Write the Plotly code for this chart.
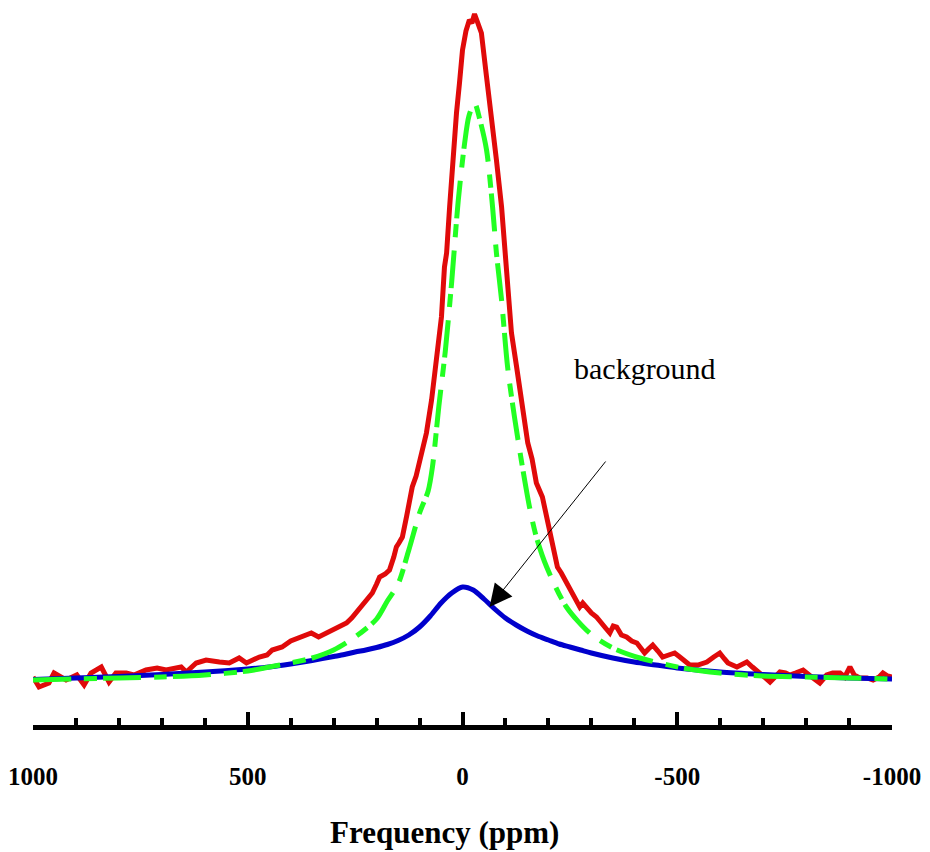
import plotly.graph_objects as go

# ---- data (frequency in ppm, intensity in arbitrary units) ----
red_freq = [1000, 986, 963, 951, 923, 898, 881, 865, 841, 823, 807, 783, 765, 737, 711, 690,
            655, 643, 620, 597, 566, 543, 520, 503, 473, 455, 443, 420, 400, 380, 365, 352,
            335, 317, 303, 285, 270, 258, 247, 235, 224, 210, 200, 193, 180, 170, 160, 154,
            148, 140, 130, 124, 117, 108, 100, 92, 84, 72, 61, 49, 42, 37, 30, 23, 14, 7, 0,
            -8, -16, -22, -28, -34, -44, -56, -68, -79, -91, -100, -105, -114, -126, -138,
            -152, -162, -172, -186, -195, -203, -212, -221, -230, -242, -252, -262, -273,
            -280, -289, -300, -312, -325, -335, -343, -351, -359, -370, -382, -394, -406,
            -415, -424, -433, -443, -455, -466, -480, -494, -506, -522, -529, -548, -569,
            -585, -599, -610, -618, -639, -662, -675, -685, -700, -716, -725, -739, -752,
            -762, -775, -793, -810, -832, -848, -862, -879, -890, -902, -912, -925, -942,
            -956, -970, -979, -990, -1000]
red_int = [4, -6, -2, 8, 1, 6, -4, 8, 14, -1, 8, 8, 6, 11, 13, 11,
           14, 9, 18, 21, 19, 18, 23, 18, 24, 26, 31, 34, 40, 43, 46, 48,
           44, 48, 51, 55, 58, 63, 69, 74, 81, 88, 97, 104, 107, 111, 124, 134,
           138, 144, 165, 181, 194, 205, 218, 233, 248, 281, 324, 364, 414, 428, 474, 524, 568, 598, 631,
           650, 661, 658, 667, 660, 648, 604, 564, 521, 474, 428, 398, 348, 314, 281,
           238, 222, 198, 184, 165, 151, 130, 114, 108, 98, 90, 84, 74,
           78, 73, 68, 64, 56, 52, 48, 55, 54, 46, 44, 40, 38,
           33, 28, 32, 36, 30, 24, 26, 28, 24, 19, 16, 16, 19,
           24, 28, 22, 18, 14, 19, 14, 11, 5, -1, 3, 9, 8,
           6, 8, 11, 5, -2, 6, 8, 8, 4, 14, 6, 3, 3,
           1, 4, 8, 5, 4]

green_freq = [1000, 900, 800, 700, 600, 500, 450, 400, 350, 300, 250, 200, 175, 150, 125, 100,
              80, 70, 55, 40, 25, 10, -5, -15, -28, -40, -56, -70, -79, -91, -105, -121,
              -138, -156, -172, -196, -242, -296, -350, -413, -513, -600, -700, -800, -900, -1000]
green_int = [1, 2, 3, 4, 6, 10, 14, 18, 23, 31, 44, 62, 80, 97, 131, 168,
             190, 214, 275, 330, 400, 480, 538, 565, 578, 562, 531, 474, 428, 381, 314, 264,
             218, 174, 144, 114, 74, 48, 33, 23, 13, 8, 5, 4, 3, 2]

blue_freq = [1000, 900, 800, 700, 600, 500, 450, 400, 350, 300, 275, 250, 225, 200, 175, 150,
             125, 100, 75, 50, 25, 0, -25, -50, -75, -100, -125, -150, -175, -200, -225,
             -250, -275, -300, -350, -400, -450, -500, -600, -700, -800, -900, -1000]
blue_int = [1.5, 3, 4.5, 6.5, 9, 12, 14, 17, 20.5, 24.5, 26.5, 29, 31, 33.5, 36.5, 40.5,
            46, 54, 65, 78, 88, 94, 91, 82, 72, 63, 56, 50, 45, 41, 37,
            34, 31, 28, 23, 19, 16, 13, 9, 6.5, 4.5, 3, 2]

x_tick_vals = [1000, 500, 0, -500, -1000]
x_tick_text = ["1000", "500", "0", "-500", "-1000"]

annotation_text = "background"
x_title = "Frequency (ppm)"

fig = go.Figure()
fig.add_trace(go.Scatter(x=red_freq, y=red_int, mode="lines",
                         line=dict(color="#e00a0a", width=5), showlegend=False))
fig.add_trace(go.Scatter(x=blue_freq, y=blue_int, mode="lines",
                         line=dict(color="#0000cc", width=5, shape="spline", smoothing=0.8),
                         showlegend=False))
fig.add_trace(go.Scatter(x=green_freq, y=green_int, mode="lines",
                         line=dict(color="#22ff22", width=5, shape="spline", smoothing=0.8,
                                   dash="38px,13px,13px,6px"),
                         showlegend=False))

fig.add_annotation(x=-63, y=74, ax=-336, ay=221, xref="x", yref="y", axref="x", ayref="y",
                   text="", showarrow=True, arrowhead=2, arrowsize=4.5, arrowwidth=1,
                   arrowcolor="black")
fig.add_annotation(x=-425, y=313, xref="x", yref="y", text=annotation_text, showarrow=False,
                   font=dict(family="Liberation Serif", size=30, color="black"))
fig.add_annotation(x=0.4796, y=-0.15, xref="paper", yref="paper", text=x_title,
                   showarrow=False, xanchor="center", yanchor="middle",
                   font=dict(family="Liberation Serif", size=31, color="black", weight="bold"))

fig.update_layout(
    width=930, height=852,
    margin=dict(l=33, r=38, t=5, b=127),
    paper_bgcolor="white", plot_bgcolor="white",
    xaxis=dict(range=[1000, -1000], showgrid=False, zeroline=False,
               showline=True, linecolor="black", linewidth=5,
               ticks="inside", ticklen=13, tickwidth=4, tickcolor="black",
               tickvals=x_tick_vals, ticktext=x_tick_text,
               minor=dict(tickvals=list(range(-1000, 1001, 100)), ticks="inside",
                          ticklen=7, tickwidth=4, tickcolor="black"),
               tickfont=dict(family="Liberation Serif", size=25, color="black", weight="bold"),
               ticklabelstandoff=25),
    yaxis=dict(range=[-44, 676], visible=False, showgrid=False, zeroline=False),
)

fig.write_html("out.html")
